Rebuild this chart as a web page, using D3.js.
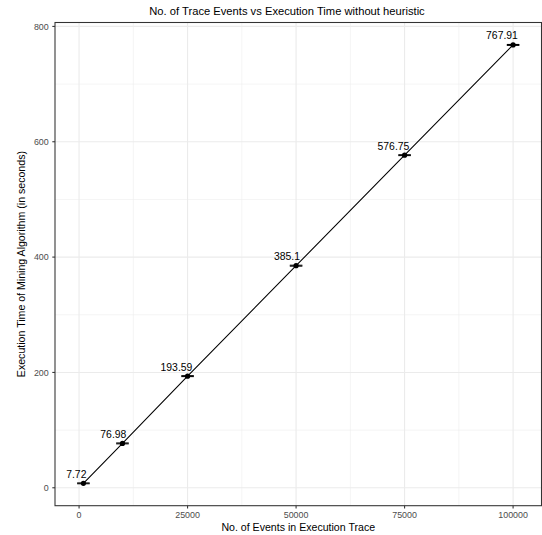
<!DOCTYPE html>
<html>
<head>
<meta charset="utf-8">
<script src="https://cdn.jsdelivr.net/npm/d3@7"></script>
<style>
  html, body { margin: 0; padding: 0; background: #fff; }
  svg { display: block; }
  text { font-family: "Liberation Sans", Arial, Helvetica, sans-serif; }
</style>
</head>
<body>
<svg id="chart" width="542" height="535"></svg>
<script>
// ---- data ----
const events = [1000, 10000, 25000, 50000, 75000, 100000];
const execTime = [7.72, 76.98, 193.59, 385.1, 576.75, 767.91];
const errLow = [7.0, 76.2, 192.8, 384.3, 576.0, 767.1];
const errHigh = [8.4, 77.7, 194.4, 385.9, 577.5, 768.7];
const labels = ["7.72", "76.98", "193.59", "385.1", "576.75", "767.91"];
const xTicks = [0, 25000, 50000, 75000, 100000];
const xMinorTicks = [12500, 37500, 62500, 87500];
const yTicks = [0, 200, 400, 600, 800];
const yMinorTicks = [100, 300, 500, 700];
const capHalfWidth = 1450;

const titleText = "No. of Trace Events vs Execution Time without heuristic";
const xTitle = "No. of Events in Execution Trace";
const yTitle = "Execution Time of Mining Algorithm (in seconds)";

// ---- layout ----
const L = 55, R = 541.5, T = 22.5, B = 505.7;
const svg = d3.select("#chart");

function expand(lo, hi, f) { const r = hi - lo; return [lo - f * r, hi + f * r]; }
const xDom = expand(d3.min(events) - capHalfWidth, d3.max(events) + capHalfWidth, 0.05);
const yDom = expand(d3.min(errLow), d3.max(errHigh), 0.05);

const x = d3.scaleLinear().domain(xDom).range([L, R]);
const y = d3.scaleLinear().domain(yDom).range([B, T]);

const data = events.map((e, i) => ({ x: e, y: execTime[i], lo: errLow[i], hi: errHigh[i], label: labels[i] }));

// panel background
svg.append("rect").attr("x", L).attr("y", T).attr("width", R - L).attr("height", B - T).attr("fill", "#fff");

// grid
const grid = svg.append("g");
grid.selectAll(".xmin").data(xMinorTicks).join("line")
  .attr("x1", d => x(d)).attr("x2", d => x(d)).attr("y1", T).attr("y2", B)
  .attr("stroke", "#EBEBEB").attr("stroke-width", 0.55);
grid.selectAll(".ymin").data(yMinorTicks).join("line")
  .attr("y1", d => y(d)).attr("y2", d => y(d)).attr("x1", L).attr("x2", R)
  .attr("stroke", "#EBEBEB").attr("stroke-width", 0.55);
grid.selectAll(".xmaj").data(xTicks).join("line")
  .attr("x1", d => x(d)).attr("x2", d => x(d)).attr("y1", T).attr("y2", B)
  .attr("stroke", "#EBEBEB").attr("stroke-width", 1.1);
grid.selectAll(".ymaj").data(yTicks).join("line")
  .attr("y1", d => y(d)).attr("y2", d => y(d)).attr("x1", L).attr("x2", R)
  .attr("stroke", "#EBEBEB").attr("stroke-width", 1.1);

// line
svg.append("path").datum(data)
  .attr("d", d3.line().x(d => x(d.x)).y(d => y(d.y)))
  .attr("fill", "none").attr("stroke", "#000").attr("stroke-width", 1.07);

// error bars
const eb = svg.append("g").attr("stroke", "#000").attr("stroke-width", 1.07);
data.forEach(d => {
  eb.append("line").attr("x1", x(d.x)).attr("x2", x(d.x)).attr("y1", y(d.lo)).attr("y2", y(d.hi));
  eb.append("line").attr("x1", x(d.x - capHalfWidth)).attr("x2", x(d.x + capHalfWidth)).attr("y1", y(d.lo)).attr("y2", y(d.lo));
  eb.append("line").attr("x1", x(d.x - capHalfWidth)).attr("x2", x(d.x + capHalfWidth)).attr("y1", y(d.hi)).attr("y2", y(d.hi));
});

// points
svg.append("g").selectAll("circle").data(data).join("circle")
  .attr("cx", d => x(d.x)).attr("cy", d => y(d.y)).attr("r", 2.6).attr("fill", "#000");

// labels
svg.append("g").selectAll("text").data(data).join("text")
  .attr("font-size", 10.4).attr("fill", "#000")
  .text(d => d.label)
  .each(function(d) {
    const w = this.getComputedTextLength();
    d3.select(this).attr("x", x(d.x) - 0.85 * w).attr("y", y(d.y) - 5.5);
  });

// panel border
svg.append("rect").attr("x", L).attr("y", T).attr("width", R - L).attr("height", B - T)
  .attr("fill", "none").attr("stroke", "#333333").attr("stroke-width", 1.07);

// x axis ticks
const xa = svg.append("g");
xa.selectAll("line").data(xTicks).join("line")
  .attr("x1", d => x(d)).attr("x2", d => x(d)).attr("y1", B).attr("y2", B + 2.7)
  .attr("stroke", "#333333").attr("stroke-width", 1.07);
xa.selectAll("text").data(xTicks).join("text")
  .attr("x", d => x(d)).attr("y", 517.8).attr("text-anchor", "middle")
  .attr("font-size", 8.9).attr("fill", "#4D4D4D").text(d => d);

// y axis ticks
const ya = svg.append("g");
ya.selectAll("line").data(yTicks).join("line")
  .attr("y1", d => y(d)).attr("y2", d => y(d)).attr("x1", L - 2.7).attr("x2", L)
  .attr("stroke", "#333333").attr("stroke-width", 1.07);
ya.selectAll("text").data(yTicks).join("text")
  .attr("x", L - 6.3).attr("y", d => y(d) + 3.2).attr("text-anchor", "end")
  .attr("font-size", 8.9).attr("fill", "#4D4D4D").text(d => d);

// titles
svg.append("text").attr("x", 287).attr("y", 14.8).attr("text-anchor", "middle")
  .attr("font-size", 11.2).attr("fill", "#000").text(titleText);
svg.append("text").attr("x", (L + R) / 2).attr("y", 530.5).attr("text-anchor", "middle")
  .attr("font-size", 10.6).attr("fill", "#000").text(xTitle);
svg.append("text").attr("transform", `translate(25,${(T + B) / 2}) rotate(-90)`)
  .attr("text-anchor", "middle").attr("font-size", 10.6).attr("fill", "#000").text(yTitle);
</script>
</body>
</html>
